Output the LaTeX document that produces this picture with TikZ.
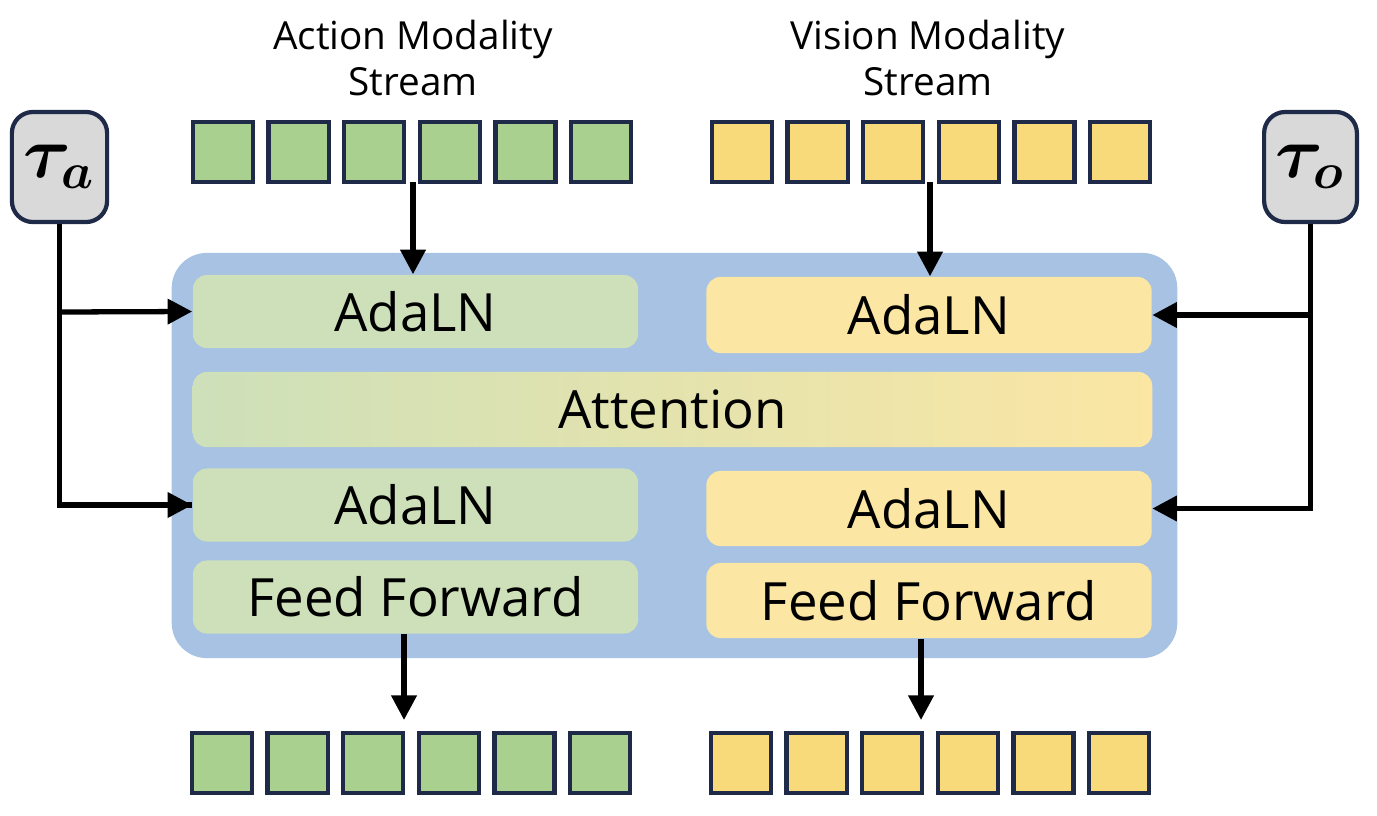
\documentclass[tikz,border=0pt]{standalone}
\usepackage{amsmath,bm}
\usepackage{fontspec}
\setsansfont{Open Sans}
\usetikzlibrary{positioning,arrows.meta,shadings}
\definecolor{tokgreen}{HTML}{A9D08E}
\definecolor{tokyellow}{HTML}{F8DA7A}
\definecolor{lightgreen}{HTML}{CDE0B9}
\definecolor{lightyellow}{HTML}{FBE6A3}
\definecolor{blockblue}{HTML}{A7C2E2}
\definecolor{edgenavy}{HTML}{1E2A48}
\definecolor{taugray}{HTML}{D9D9D9}
\begin{document}
\begin{tikzpicture}[x=0.01cm,y=-0.01cm,font=\sffamily,
    token/.style={draw=edgenavy,line width=1.2pt,minimum size=0.6cm,inner sep=0pt},
    layer/.style={rounded corners=4pt,minimum width=4.45cm,minimum height=0.73cm,font=\sffamily\fontsize{15}{18}\selectfont},
    taubox/.style={draw=edgenavy,fill=taugray,line width=1.2pt,rounded corners=6pt,minimum width=0.91cm,minimum height=1.1cm,font=\fontsize{22}{26}\selectfont},
    arr/.style={-{Triangle[length=7pt,width=7pt]},line width=1.5pt}]
    \useasboundingbox (0,0) rectangle (1377,815);
    % Stream labels
    \node[align=center,font=\sffamily\fontsize{11}{13}\selectfont] (alabel) at (413,58) {Action Modality\\Stream};
    \node[align=center,font=\sffamily\fontsize{11}{13}\selectfont] (vlabel) at (928,58) {Vision Modality\\Stream};
    % Tokens
    \foreach \i in {0,...,5} {
        \node[token,fill=tokgreen] (ain\i) at (223+75.6*\i,152) {};
        \node[token,fill=tokyellow] (vin\i) at (742+75.6*\i,152) {};
        \node[token,fill=tokgreen] (aout\i) at (222+75.6*\i,763) {};
        \node[token,fill=tokyellow] (vout\i) at (741+75.6*\i,763) {};
    }
    % Block
    \node[fill=blockblue,rounded corners=10pt,minimum width=10.05cm,minimum height=4.05cm] (block) at (674.5,455.5) {};
    \node[layer,fill=lightgreen] (aada1) at (415.5,311.5) {AdaLN};
    \node[layer,fill=lightyellow,minimum height=0.76cm] (vada1) at (929,315) {AdaLN};
    \node[layer,minimum width=9.59cm,minimum height=0.75cm,left color=lightgreen,right color=lightyellow] (attn) at (672.5,409.5) {Attention};
    \node[layer,fill=lightgreen] (aada2) at (415.5,505) {AdaLN};
    \node[layer,fill=lightyellow,minimum height=0.75cm] (vada2) at (929,508.5) {AdaLN};
    \node[layer,fill=lightgreen] (aff) at (415.5,597) {Feed Forward};
    \node[layer,fill=lightyellow,minimum height=0.75cm] (vff) at (929,600.5) {Feed Forward};
    % Timesteps
    \node[taubox] (taua) at (59.5,167) {$\bm{\tau_a}$};
    \node[taubox] (tauo) at (1310.5,167) {$\bm{\tau_o}$};
    \coordinate (ja) at (60,312);
    \coordinate (jo) at (1310,315);
    % Arrows
    \draw[arr] (413,182) -- (aada1.north -| 413,0);
    \draw[arr] (930,182) -- (vada1.north -| 930,0);
    \draw[arr] (aff.south -| 404,0) -- (404,720);
    \draw[arr] (vff.south -| 921,0) -- (921,720);
    \draw[line width=1.5pt] (taua.south) |- (aada2.west);
    \draw[arr] (taua.south) |- (aada2.west);
    \draw[arr] (ja) -- (aada1.west);
    \draw[arr] (tauo.south) |- (vada2.east);
    \draw[arr] (jo) -- (vada1.east);
\end{tikzpicture}
\end{document}
